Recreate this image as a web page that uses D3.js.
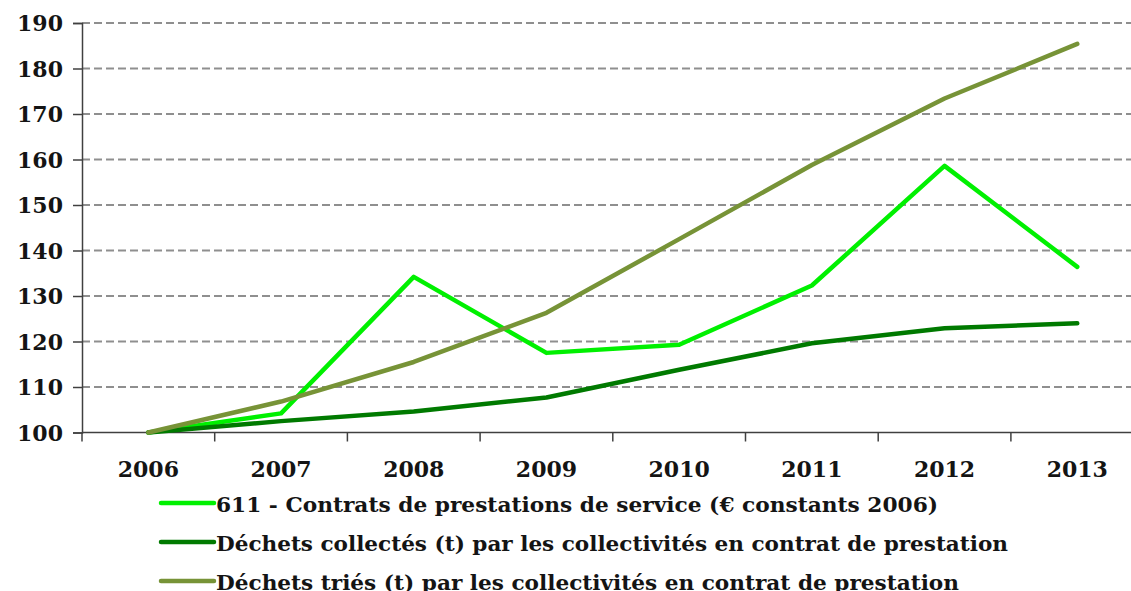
<!DOCTYPE html>
<html>
<head>
<meta charset="utf-8">
<script src="https://cdn.jsdelivr.net/npm/d3@7/dist/d3.min.js"></script>
<style>
  html, body { margin: 0; padding: 0; background: #ffffff; }
  svg { display: block; }
  text { font-family: "DejaVu Serif", "Liberation Serif", serif; font-weight: bold; fill: #141414; }
</style>
</head>
<body>
<svg id="chart" width="1131" height="591"></svg>
<script>
// Years on the horizontal axis
const years = ["2006", "2007", "2008", "2009", "2010", "2011", "2012", "2013"];

// Indices (base 100 in 2006)
const contrats = [100, 104.2, 134.2, 117.5, 119.3, 132.3, 158.6, 136.4];
const collectes = [100, 102.5, 104.6, 107.7, 113.8, 119.6, 122.9, 124.0];
const tries = [100, 106.8, 115.5, 126.3, 142.5, 158.8, 173.4, 185.4];

const yTicks = [100, 110, 120, 130, 140, 150, 160, 170, 180, 190];

const seriesNames = [
  "611 - Contrats de prestations de service (€ constants 2006)",
  "Déchets collectés (t) par les collectivités en contrat de prestation",
  "Déchets triés (t) par les collectivités en contrat de prestation"
];
const seriesColors = ["#00f000", "#007a00", "#779337"];
const seriesValues = [contrats, collectes, tries];
const legendWidths = [722, 792, 743];

const svg = d3.select("#chart");
const plotLeft = 82, plotTop = 23, plotBottom = 432.5, bandW = 132.7;
const plotRight = plotLeft + bandW * years.length;

const x = d3.scaleBand().domain(years).range([plotLeft, plotRight]).paddingInner(0).paddingOuter(0);
const y = d3.scaleLinear().domain([100, 190]).range([plotBottom, plotTop]);

// Horizontal dashed gridlines
svg.append("g")
  .selectAll("line")
  .data(yTicks.filter(d => d > 100))
  .join("line")
  .attr("x1", plotLeft).attr("x2", 1131)
  .attr("y1", d => y(d)).attr("y2", d => y(d))
  .attr("stroke", "#8f8f8f")
  .attr("stroke-width", 2)
  .attr("stroke-dasharray", "8,4");

// Y axis
const yAxis = svg.append("g")
  .attr("transform", `translate(${plotLeft},0)`)
  .call(d3.axisLeft(y).tickValues(yTicks).tickSize(9).tickPadding(10).tickFormat(d3.format("d")));
yAxis.select(".domain").attr("stroke", "#404040").attr("stroke-width", 1.5);
yAxis.selectAll(".tick line").attr("stroke", "#404040").attr("stroke-width", 1.5);
yAxis.selectAll("text")
  .style("font-size", "22px")
  .style("font-family", "'DejaVu Serif', serif")
  .attr("fill", "#141414")
  .attr("dy", "0.36em");

// X axis: ticks sit between categories
const xAxisG = svg.append("g").attr("transform", `translate(0,${plotBottom})`);
xAxisG.append("line")
  .attr("x1", plotLeft).attr("x2", 1131)
  .attr("y1", 0).attr("y2", 0)
  .attr("stroke", "#404040").attr("stroke-width", 1.5);
xAxisG.selectAll("line.tk")
  .data(years)
  .join("line")
  .attr("class", "tk")
  .attr("x1", d => x(d)).attr("x2", d => x(d))
  .attr("y1", 0).attr("y2", 9)
  .attr("stroke", "#404040").attr("stroke-width", 1.5);
xAxisG.selectAll("text")
  .data(years)
  .join("text")
  .attr("x", d => x(d) + x.bandwidth() / 2)
  .attr("y", 44)
  .attr("text-anchor", "middle")
  .style("font-size", "22px")
  .text(d => d);

// Series lines
const line = d3.line()
  .x((d, i) => x(years[i]) + x.bandwidth() / 2)
  .y(d => y(d));

svg.append("g")
  .selectAll("path")
  .data(seriesValues)
  .join("path")
  .attr("d", d => line(d))
  .attr("fill", "none")
  .attr("stroke", (d, i) => seriesColors[i])
  .attr("stroke-width", 4.5)
  .attr("stroke-linejoin", "round")
  .attr("stroke-linecap", "round");

// Legend
const legend = svg.append("g");
const legendRows = legend.selectAll("g")
  .data(seriesNames)
  .join("g")
  .attr("transform", (d, i) => `translate(160,${503 + i * 39})`);
legendRows.append("line")
  .attr("x1", 1).attr("x2", 54)
  .attr("y1", 0).attr("y2", 0)
  .attr("stroke", (d, i) => seriesColors[i])
  .attr("stroke-width", 4.5)
  .attr("stroke-linecap", "round");
legendRows.append("text")
  .attr("x", 56)
  .attr("y", 9)
  .style("font-size", "21px")
  .attr("textLength", (d, i) => legendWidths[i])
  .attr("lengthAdjust", "spacingAndGlyphs")
  .text(d => d);
</script>
</body>
</html>
